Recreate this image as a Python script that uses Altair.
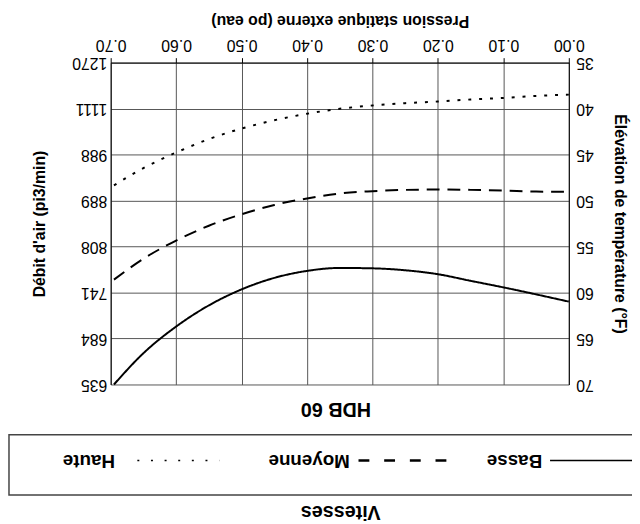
import altair as alt
import pandas as pd

# ---- data ----
pression = [0.00, 0.05, 0.10, 0.15, 0.20, 0.25, 0.30, 0.35, 0.40, 0.45, 0.50, 0.55, 0.60, 0.65, 0.695]
temp_haute = [38.48, 38.62, 38.84, 39.01, 39.23, 39.41, 39.66, 40.02, 40.56, 41.27, 42.17, 43.32, 44.78, 46.47, 48.35]
temp_moyenne = [49.05, 49.02, 48.91, 48.84, 48.80, 48.84, 48.98, 49.23, 49.77, 50.48, 51.49, 52.74, 54.35, 56.33, 58.6]
temp_basse = [60.99, 60.20, 59.44, 58.73, 58.01, 57.58, 57.37, 57.33, 57.65, 58.41, 59.66, 61.40, 63.70, 66.60, 70.0]

vitesses = ["Basse", "Moyenne", "Haute"]
x_ticks = [0.0, 0.1, 0.2, 0.3, 0.4, 0.5, 0.6, 0.7]
temp_ticks = [35, 40, 45, 50, 55, 60, 65, 70]
flow_labels = ["1270", "1111", "988", "889", "808", "741", "684", "635"]

titre = "HDB 60"
titre_x = "Pression statique externe (po eau)"
titre_gauche = "Débit d'air (pi3/min)"
titre_droite = "Élévation de température (°F)"
titre_legende = "Vitesses"

rows = []
for name, temps in zip(vitesses, [temp_basse, temp_moyenne, temp_haute]):
    for p, t in zip(pression, temps):
        rows.append({"pression": p, "temp": t, "vitesse": name})
df = pd.DataFrame(rows)

FONT = "Liberation Sans"
W, H = 464, 326
LAB = 16
TIT = 16

# label expression for left (flow) axis
expr = "''"
for t, lab in reversed(list(zip(temp_ticks, flow_labels))):
    expr = f"datum.value == {t} ? '{lab}' : ({expr})"

x_scale = alt.Scale(domain=[0, 0.7], reverse=True, nice=False, zero=False)
y_scale = alt.Scale(domain=[35, 70], reverse=True, nice=False, zero=False)

x_enc = alt.X(
    "pression:Q", scale=x_scale,
    axis=alt.Axis(
        orient="top", values=x_ticks, format=".2f", title=titre_x,
        labelAngle=180, labelAlign="center", labelBaseline="middle",
        labelPadding=13, tickSize=5, ticks=True, tickColor="black",
        labelFlush=False, labelOverlap=False,
        labelFont=FONT, labelFontSize=LAB, labelColor="black",
        titleFont=FONT, titleFontSize=TIT, titleFontWeight="bold", titleColor="black",
        titleAngle=180, titleAlign="center", titleBaseline="middle",
        titleX=W / 2, titleY=-43,
        domainColor="black", grid=True, gridColor="#555", gridWidth=1,
    ),
)

lines = alt.Chart(df).mark_line(interpolate="monotone", color="black", strokeWidth=2).encode(
    x=x_enc,
    y=alt.Y(
        "temp:Q", scale=y_scale,
        axis=alt.Axis(
            orient="right", values=temp_ticks, format="d", title=titre_droite,
            labelAngle=180, labelAlign="right", labelBaseline="middle",
            labelPadding=7, ticks=False, tickSize=0,
            labelFlush=False, labelOverlap=False,
            labelFont=FONT, labelFontSize=LAB, labelColor="black",
            titleFont=FONT, titleFontSize=TIT, titleFontWeight="bold", titleColor="black",
            titleAngle=90, titleAlign="center", titleBaseline="middle",
            titleX=51, titleY=H / 2,
            domainColor="black", grid=True, gridColor="#555", gridWidth=1,
        ),
    ),
    strokeDash=alt.StrokeDash(
        "vitesse:N",
        scale=alt.Scale(domain=vitesses, range=[[1, 0], [13, 8], [3, 8]]),
        legend=None,
    ),
    detail="vitesse:N",
)

left_axis = alt.Chart(pd.DataFrame({"temp": temp_ticks})).mark_point(opacity=0).encode(
    y=alt.Y(
        "temp:Q", scale=y_scale,
        axis=alt.Axis(
            orient="left", values=temp_ticks, labelExpr=expr, title=titre_gauche,
            labelAngle=180, labelAlign="left", labelBaseline="middle",
            labelPadding=4, ticks=False, tickSize=0,
            labelFlush=False, labelOverlap=False,
            labelFont=FONT, labelFontSize=LAB, labelColor="black",
            titleFont=FONT, titleFontSize=TIT, titleFontWeight="bold", titleColor="black",
            titleAngle=270, titleAlign="center", titleBaseline="middle",
            titleX=-72, titleY=H / 2,
            domainColor="black", grid=False,
        ),
    ),
)

def txt(s, x, y, size):
    return alt.Chart(pd.DataFrame({"t": [s]})).mark_text(
        angle=180, align="center", baseline="middle", font=FONT,
        fontSize=size, fontWeight="bold", color="black",
    ).encode(text="t:N", x=alt.value(x), y=alt.value(y))

title_mark = txt(titre, 228, 351, 20)
vit_mark = txt(titre_legende, 233, 455, 20)

box = alt.Chart(pd.DataFrame({"a": [0]})).mark_rect(
    fillOpacity=0, stroke="#444", strokeWidth=1.5
).encode(x=alt.value(-103), x2=alt.value(600), y=alt.value(377), y2=alt.value(438))

leg_y = 403
leg_text_x = {"Basse": 409, "Moyenne": 201, "Haute": -22}
leg_line = {"Basse": (445, 600, [1, 0], 1.5), "Moyenne": (251, 341, [11, 15], 2.5), "Haute": (27, 110, [2, 11.8], 1.5)}
leg_layers = []
for name in vitesses:
    x1, x2, dash, sw = leg_line[name]
    leg_layers.append(
        alt.Chart(pd.DataFrame({"v": [name]})).mark_rule(
            color="black", strokeWidth=sw, strokeDash=dash
        ).encode(x=alt.value(x1), x2=alt.value(x2), y=alt.value(leg_y))
    )
    leg_layers.append(txt(name, leg_text_x[name], leg_y, 19))

chart = alt.layer(
    lines, left_axis, title_mark, vit_mark, box, *leg_layers
).resolve_scale(y="independent").properties(
    width=W, height=H,
    autosize=alt.AutoSizeParams(type="none"),
    padding={"left": 104, "top": 52, "right": 64, "bottom": 138},
).configure_view(stroke=None)

chart.save("out.html", embed_options={"renderer": "svg", "actions": False})
